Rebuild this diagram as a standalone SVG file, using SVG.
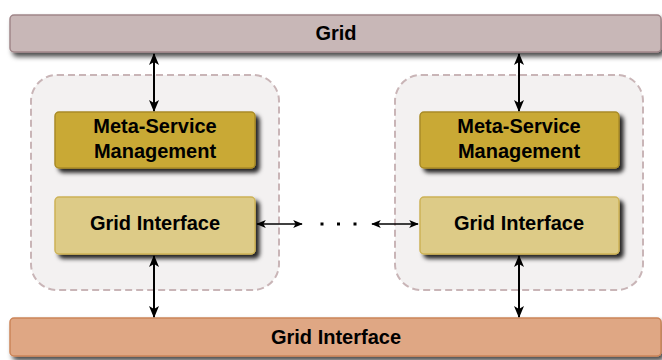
<svg xmlns="http://www.w3.org/2000/svg" width="662" height="360" viewBox="0 0 662 360">
  <defs>
    <filter id="shadow" x="-10%" y="-20%" width="130%" height="160%">
      <feDropShadow dx="4" dy="4" stdDeviation="2" flood-color="#000" flood-opacity="0.85"/>
    </filter>
    <filter id="softShadow" x="-10%" y="-30%" width="130%" height="180%">
      <feDropShadow dx="3" dy="4" stdDeviation="2.5" flood-color="#000" flood-opacity="0.7"/>
    </filter>
    <marker id="headBig" viewBox="0 0 12 10" refX="11" refY="5" markerWidth="12" markerHeight="10" markerUnits="userSpaceOnUse" orient="auto-start-reverse">
      <path d="M0,0 L12,5 L0,10 L3,5 Z" fill="#000"/>
    </marker>
    <marker id="headSmall" viewBox="0 0 12 10" refX="11" refY="5" markerWidth="11" markerHeight="8" markerUnits="userSpaceOnUse" orient="auto-start-reverse">
      <path d="M0,0 L12,5 L0,10 L3,5 Z" fill="#000"/>
    </marker>
  </defs>
  <style>
    .label { font-family: "Liberation Sans", Arial, sans-serif; font-weight: bold; font-size: 20px; fill: #000; text-anchor: middle; }
    .container { fill: #f3f1f1; stroke: #c9b5b7; stroke-width: 2; stroke-dasharray: 7 4; }
    .bar-top { fill: #c8b7b7; stroke: #a08689; stroke-width: 1.5; }
    .bar-bottom { fill: #dfa784; stroke: #cc8558; stroke-width: 1.5; }
    .meta { fill: #c9a934; stroke: #a98b26; stroke-width: 1.5; }
    .iface { fill: #ddcb87; stroke: #cdb357; stroke-width: 1.5; }
    .vlink { stroke: #000; stroke-width: 2; fill: none; marker-start: url(#headBig); marker-end: url(#headBig); }
    .hlink { stroke: #000; stroke-width: 1.4; fill: none; marker-start: url(#headSmall); marker-end: url(#headSmall); }
  </style>

  <!-- dashed site containers -->
  <g id="site-left">
    <rect class="container" x="31" y="75" width="248" height="215" rx="26"/>
  </g>
  <g id="site-right">
    <rect class="container" x="395" y="75" width="248" height="215" rx="26"/>
  </g>

  <!-- top bar -->
  <g id="grid-top">
    <rect class="bar-top" x="10" y="15" width="651" height="37" rx="4" filter="url(#softShadow)"/>
    <text class="label" x="336" y="40">Grid</text>
  </g>

  <!-- bottom bar -->
  <g id="grid-interface-bottom">
    <rect class="bar-bottom" x="10" y="318" width="651" height="38" rx="4" filter="url(#softShadow)"/>
    <text class="label" x="336" y="344">Grid Interface</text>
  </g>

  <!-- left site nodes -->
  <g id="meta-left">
    <rect class="meta" x="55" y="112" width="200" height="56" rx="4" filter="url(#shadow)"/>
    <text class="label" x="155" y="133">Meta-Service</text>
    <text class="label" x="155" y="158">Management</text>
  </g>
  <g id="iface-left">
    <rect class="iface" x="55" y="197" width="200" height="57" rx="4" filter="url(#shadow)"/>
    <text class="label" x="155" y="230">Grid Interface</text>
  </g>

  <!-- right site nodes -->
  <g id="meta-right">
    <rect class="meta" x="420" y="112" width="199" height="56" rx="4" filter="url(#shadow)"/>
    <text class="label" x="519" y="133">Meta-Service</text>
    <text class="label" x="519" y="158">Management</text>
  </g>
  <g id="iface-right">
    <rect class="iface" x="420" y="197" width="199" height="57" rx="4" filter="url(#shadow)"/>
    <text class="label" x="519" y="230">Grid Interface</text>
  </g>

  <!-- connectors -->
  <g id="connectors">
    <line class="vlink" x1="154" y1="54" x2="154" y2="111"/>
    <line class="vlink" x1="519" y1="54" x2="519" y2="111"/>
    <line class="vlink" x1="154" y1="256" x2="154" y2="317"/>
    <line class="vlink" x1="519" y1="256" x2="519" y2="317"/>
    <line class="hlink" x1="257" y1="224" x2="302" y2="224"/>
    <line class="hlink" x1="372" y1="224" x2="418" y2="224"/>
    <g id="ellipsis" fill="#000">
      <rect x="320.5" y="222.5" width="3" height="3"/>
      <rect x="337" y="222.5" width="3" height="3"/>
      <rect x="353.5" y="222.5" width="3" height="3"/>
    </g>
  </g>
</svg>
